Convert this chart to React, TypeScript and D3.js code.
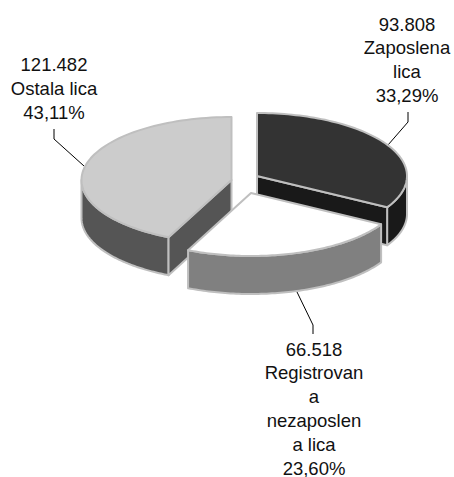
import React from "react";
import * as d3 from "d3";

const categories = ["Zaposlena lica", "Registrovana nezaposlena lica", "Ostala lica"];
const seriesValues = [93808, 66518, 121482];
const labelLines = [
  ["93.808", "Zaposlena", "lica", "33,29%"],
  ["66.518", "Registrovan", "a", "nezaposlen", "a lica", "23,60%"],
  ["121.482", "Ostala lica", "43,11%"],
];
const topColors = ["#333333", "#ffffff", "#cccccc"];
const wallColors = ["#191919", "#808080", "#555555"];

const W = 454, H = 477, RX = 150, RY = 63, DEPTH = 38;
const TAU = Math.PI * 2;
const centers = [[257, 176], [251, 193], [231.5, 180]];
const leaders = [
  [[388, 145], [408, 122], [408, 112]],
  [[297, 292], [313, 325], [313, 334]],
  [[84, 166], [54, 139], [54, 129]],
];
const labelPos = [
  { x: 407, y: 30.5, dy: 23.7 },
  { x: 314, y: 355.5, dy: 23.8 },
  { x: 54, y: 70.5, dy: 24 },
];
const STROKE = "#bfbfbf";

const pieGen = d3.pie<number>().sort(null).value((d) => d);
const px = d3.scaleLinear().domain([0, 1]).range([0, RX]);
const py = d3.scaleLinear().domain([0, 1]).range([0, RY]);
const line = d3.line<[number, number]>();

function pt(c: number[], a: number, dz = 0): [number, number] {
  return [c[0] + px(Math.sin(a)), c[1] - py(Math.cos(a)) + dz];
}
function arcPts(c: number[], a0: number, a1: number, dz = 0) {
  const n = 80;
  return d3.range(n + 1).map((i) => pt(c, a0 + ((a1 - a0) * i) / n, dz));
}

export default function App() {
  const arcs = pieGen(seriesValues);
  const front0 = TAU / 4, front1 = (TAU * 3) / 4;
  return (
    <svg width={W} height={H} style={{ position: "absolute", left: 0, top: 0, background: "#fff" }}
      fontFamily="'Liberation Sans', Arial, sans-serif" fontSize={18.5} fill="#111">
      {leaders.map((l, i) => (
        <path key={i} d={line(l as [number, number][]) || ""} fill="none" stroke="#000" strokeWidth={1} />
      ))}
      {[2, 0, 1].map((i) => {
        const a = arcs[i];
        const c = centers[i];
        const a0 = Math.max(a.startAngle, front0);
        const a1 = Math.min(a.endAngle, front1);
        const wall = [...arcPts(c, a0, a1), ...arcPts(c, a0, a1, DEPTH).reverse()];
        // cut faces that turn towards the viewer
        const cuts: number[] = i === 0 ? [a.endAngle] : i === 2 ? [a.startAngle] : [];
        const top = [[c[0], c[1]] as [number, number], ...arcPts(c, a.startAngle, a.endAngle)];
        return (
          <g key={categories[i]} stroke={STROKE} strokeWidth={2} strokeLinejoin="round">
            {a1 > a0 && <path d={(line(wall) || "") + "Z"} fill={wallColors[i]} />}
            {cuts.map((ang, k) => {
              const q: [number, number][] = [
                [c[0], c[1]], pt(c, ang), pt(c, ang, DEPTH), [c[0], c[1] + DEPTH],
              ];
              return <path key={k} d={(line(q) || "") + "Z"} fill={wallColors[i]} />;
            })}
            <path d={(line(top) || "") + "Z"} fill={topColors[i]} />
          </g>
        );
      })}
      {labelLines.map((lines, i) => (
        <text key={i} textAnchor="middle">
          {lines.map((t, k) => (
            <tspan key={k} x={labelPos[i].x} y={labelPos[i].y + k * labelPos[i].dy}>{t}</tspan>
          ))}
        </text>
      ))}
    </svg>
  );
}
